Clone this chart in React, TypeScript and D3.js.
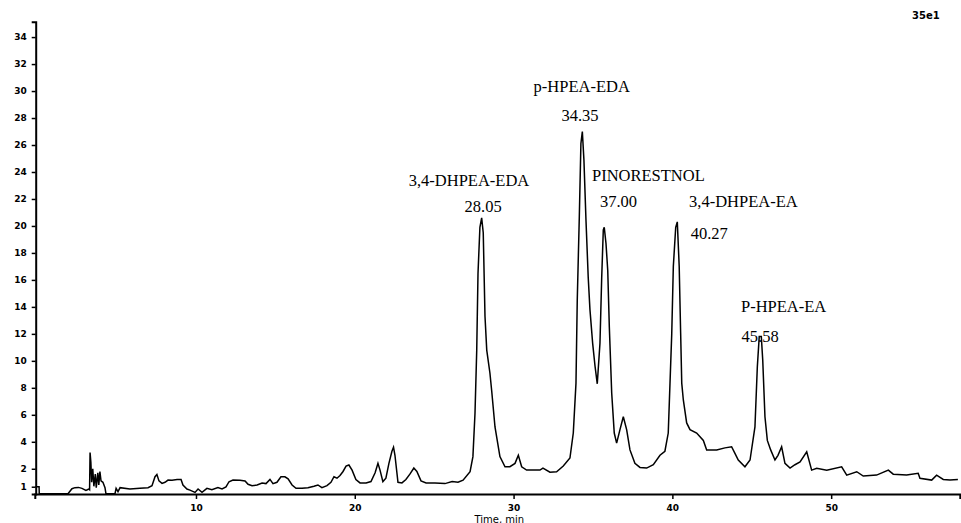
import React, { useRef, useEffect } from 'react';
import * as d3 from 'd3';

// retention time (min) and detector response
const times = [
  -0.1, 0.12, 0.13, 1.94, 2.19, 2.38, 2.6, 2.82, 3.07, 3.26, 3.3, 3.33, 3.38, 3.43, 3.5, 3.57, 3.66, 3.72,
  3.82, 3.88, 3.95, 4.02, 4.14, 4.27, 4.33, 4.9, 4.97, 5.09, 5.22, 5.84, 6.47, 6.98, 7.23, 7.42, 7.54,
  7.67, 7.86, 8.05, 8.24, 8.49, 8.81, 9.06, 9.18, 9.43, 9.62, 9.94, 10.13, 10.38, 10.69, 11.0, 11.38,
  11.64, 11.89, 12.08, 12.33, 12.77, 13.09, 13.28, 13.53, 13.85, 14.16, 14.41, 14.66, 14.85, 15.1, 15.35,
  15.6, 15.8, 16.05, 16.3, 16.68, 17.05, 17.43, 17.68, 17.93, 18.25, 18.5, 18.69, 18.88, 19.07, 19.26,
  19.45, 19.63, 19.83, 20.07, 20.33, 20.71, 21.02, 21.28, 21.46, 21.59, 21.77, 21.96, 22.15, 22.34, 22.44,
  22.53, 22.72, 22.97, 23.22, 23.47, 23.72, 23.91, 24.17, 24.49, 25.05, 25.68, 26.13, 26.5, 26.82, 27.26,
  27.44, 27.57, 27.68, 27.76, 27.88, 27.99, 28.09, 28.2, 28.31, 28.51, 28.62, 28.83, 29.14, 29.46, 29.77,
  30.09, 30.3, 30.51, 30.82, 31.66, 31.85, 32.29, 32.71, 33.13, 33.55, 33.76, 33.93, 34.01, 34.14, 34.24,
  34.33, 34.43, 34.56, 34.7, 34.81, 34.98, 35.13, 35.27, 35.44, 35.55, 35.65, 35.71, 35.82, 35.93, 36.03,
  36.18, 36.34, 36.49, 36.7, 36.91, 37.12, 37.33, 37.64, 37.96, 38.38, 38.8, 39.22, 39.53, 39.74, 39.96,
  40.06, 40.21, 40.31, 40.43, 40.52, 40.59, 40.69, 40.9, 41.11, 41.53, 41.95, 42.16, 42.79, 43.31, 43.73,
  43.94, 44.15, 44.57, 44.89, 45.2, 45.35, 45.47, 45.6, 45.69, 45.83, 45.98, 46.19, 46.46, 46.65, 46.88,
  47.09, 47.41, 47.72, 48.04, 48.46, 48.77, 49.09, 49.72, 50.66, 50.98, 51.61, 52.02, 52.86, 53.6, 53.91,
  54.75, 55.48, 55.59, 56.33, 56.64, 57.06, 57.48, 57.98,
];
const response = [
  0.67, 0.67, 0.15, 0.15, 0.52, 0.6, 0.62, 0.55, 0.4, 0.5, 0.45, 3.2, 2.5, 1.0, 2.0, 0.7, 1.6, 0.6,
  1.7, 0.8, 1.8, 1.1, 1.0, 0.6, 0.15, 0.15, 0.55, 0.3, 0.6, 0.5, 0.55, 0.6, 0.74, 1.41, 1.58,
  1.1, 0.92, 1.0, 1.16, 1.15, 1.2, 1.2, 0.79, 0.5, 0.42, 0.25, 0.5, 0.25, 0.55, 0.45, 0.6,
  0.5, 0.65, 1.04, 1.16, 1.15, 1.1, 0.85, 0.74, 0.8, 0.95, 0.9, 1.21, 0.9, 1.0, 1.41,
  1.4, 1.25, 0.8, 0.55, 0.55, 0.6, 0.7, 0.8, 0.6, 0.75, 1.0, 1.41, 1.3, 1.5, 1.8,
  2.2, 2.28, 1.9, 1.2, 0.95, 0.95, 1.05, 1.7, 2.4, 1.9, 1.05, 1.3, 2.4, 3.3, 3.6,
  3.0, 1.0, 0.95, 1.2, 1.6, 2.05, 1.8, 1.1, 0.95, 0.95, 0.9, 1.05, 1.0, 1.15, 1.78,
  2.9, 6.1, 10.8, 16.5, 19.9, 20.6, 19.5, 13.3, 10.8, 9.1, 7.8, 5.1, 2.9, 2.15, 2.15,
  2.4, 3.0, 2.15, 1.9, 1.9, 2.05, 1.75, 1.78, 2.2, 2.8, 4.65, 8.35, 14.5, 20.7, 26.1,
  27.0, 24.9, 20.4, 16.2, 13.8, 11.3, 9.6, 8.3, 11.3, 16.2, 19.7, 19.9, 18.7, 16.7, 12.5,
  7.6, 4.65, 3.9, 4.9, 5.86, 4.9, 3.4, 2.4, 2.1, 2.05, 2.3, 3.0, 3.3, 4.65, 12.0,
  17.0, 19.9, 20.3, 17.0, 12.1, 8.35, 7.1, 5.4, 4.9, 4.65, 4.1, 3.4, 3.4, 3.55, 3.63,
  3.14, 2.65, 2.15, 2.65, 5.1, 9.56, 11.8, 11.8, 10.06, 5.86, 4.1, 3.4, 2.65, 3.0, 3.63,
  2.4, 2.05, 2.3, 2.5, 3.26, 1.9, 2.03, 1.9, 2.15, 1.53, 1.78, 1.46, 1.53, 1.9, 1.6,
  1.53, 1.66, 1.29, 1.16, 1.53, 1.21, 1.16, 1.21,
];

// peak annotations
const labelTexts = ['3,4-DHPEA-EDA', '28.05', 'p-HPEA-EDA', '34.35', 'PINORESTNOL', '37.00', '3,4-DHPEA-EA', '40.27', 'P-HPEA-EA', '45.58'];
const labelTimes = [27.19, 28.08, 34.29, 34.18, 34.94, 35.44, 41.05, 41.15, 44.32, 44.36];
const labelValues = [23.4, 21.42, 30.32, 28.22, 23.75, 21.8, 21.8, 19.45, 14.01, 11.79];
const labelAnchors = ['middle', 'middle', 'middle', 'middle', 'start', 'start', 'start', 'start', 'start', 'start'];

const xTicks = [10, 20, 30, 40, 50];
const yTicks = [0.67, 2, 4, 6, 8, 10, 12, 14, 16, 18, 20, 22, 24, 26, 28, 30, 32, 34];
const yTickLabels = ['1', '2', '4', '6', '8', '10', '12', '14', '16', '18', '20', '22', '24', '26', '28', '30', '32', '34'];

const W = 961;
const H = 523;

export default function App() {
  const ref = useRef<SVGSVGElement>(null);

  useEffect(() => {
    const svg = d3.select(ref.current);
    svg.selectAll('*').remove();

    const x = d3.scaleLinear().domain([-0.15, 58.1]).range([34.8, 959.8]);
    const y = d3.scaleLinear().domain([0.13, 35.14]).range([494, 21.7]);

    const tickFont = 'DejaVu Sans, sans-serif';

    // x axis
    const xAxis = svg.append('g').attr('transform', 'translate(0,494)');
    xAxis.call(d3.axisBottom(x).tickValues(xTicks).tickSizeOuter(0).tickSize(5).tickFormat(d3.format('d')));
    xAxis.select('.domain').attr('stroke-width', 2);
    xAxis.selectAll('.tick line').attr('stroke-width', 1.5);
    xAxis.selectAll('.tick text')
      .attr('y', 11)
      .attr('font-size', 9)
      .attr('font-weight', 'bold')
      .attr('font-family', tickFont)
      .attr('fill', '#000');

    // y axis
    const yAxis = svg.append('g').attr('transform', 'translate(35.7,0)');
    yAxis.call(
      d3.axisLeft(y)
        .tickValues(yTicks)
        .tickSizeOuter(0)
        .tickSize(4)
        .tickFormat((_, i) => yTickLabels[i])
    );
    yAxis.select('.domain').attr('stroke-width', 2);
    yAxis.selectAll('.tick line').attr('stroke-width', 1.5);
    yAxis.selectAll('.tick text')
      .attr('x', -9)
      .attr('font-size', 9)
      .attr('font-weight', 'bold')
      .attr('font-family', tickFont)
      .attr('fill', '#000');

    // trace
    const pts = times.map((t, i) => [t, response[i]] as [number, number]);
    const line = d3.line<[number, number]>()
      .x(d => x(d[0]))
      .y(d => y(d[1]));

    svg.append('path')
      .datum(pts)
      .attr('fill', 'none')
      .attr('stroke', '#000')
      .attr('stroke-width', 1.5)
      .attr('stroke-linejoin', 'miter')
      .attr('d', line);

    // peak labels
    svg.append('g')
      .selectAll('text')
      .data(labelTexts)
      .join('text')
      .attr('x', (_, i) => x(labelTimes[i]))
      .attr('y', (_, i) => y(labelValues[i]))
      .attr('text-anchor', (_, i) => labelAnchors[i])
      .attr('dominant-baseline', 'central')
      .attr('font-family', 'Liberation Serif, Times New Roman, serif')
      .attr('font-size', 16.5)
      .attr('fill', '#000')
      .text(d => d);

    // axis title and scale factor
    svg.append('text')
      .attr('x', x(29.1))
      .attr('y', 519)
      .attr('text-anchor', 'middle')
      .attr('dominant-baseline', 'central')
      .attr('font-family', tickFont)
      .attr('font-size', 10)
      .attr('fill', '#000')
      .text('Time, min');

    svg.append('text')
      .attr('x', 912)
      .attr('y', 15)
      .attr('dominant-baseline', 'central')
      .attr('font-family', tickFont)
      .attr('font-size', 10)
      .attr('font-weight', 'bold')
      .attr('fill', '#000')
      .text('35e1');
  }, []);

  return (
    <svg
      ref={ref}
      width={W}
      height={H}
      style={{ position: 'absolute', left: 0, top: 0, background: '#fff' }}
    />
  );
}
